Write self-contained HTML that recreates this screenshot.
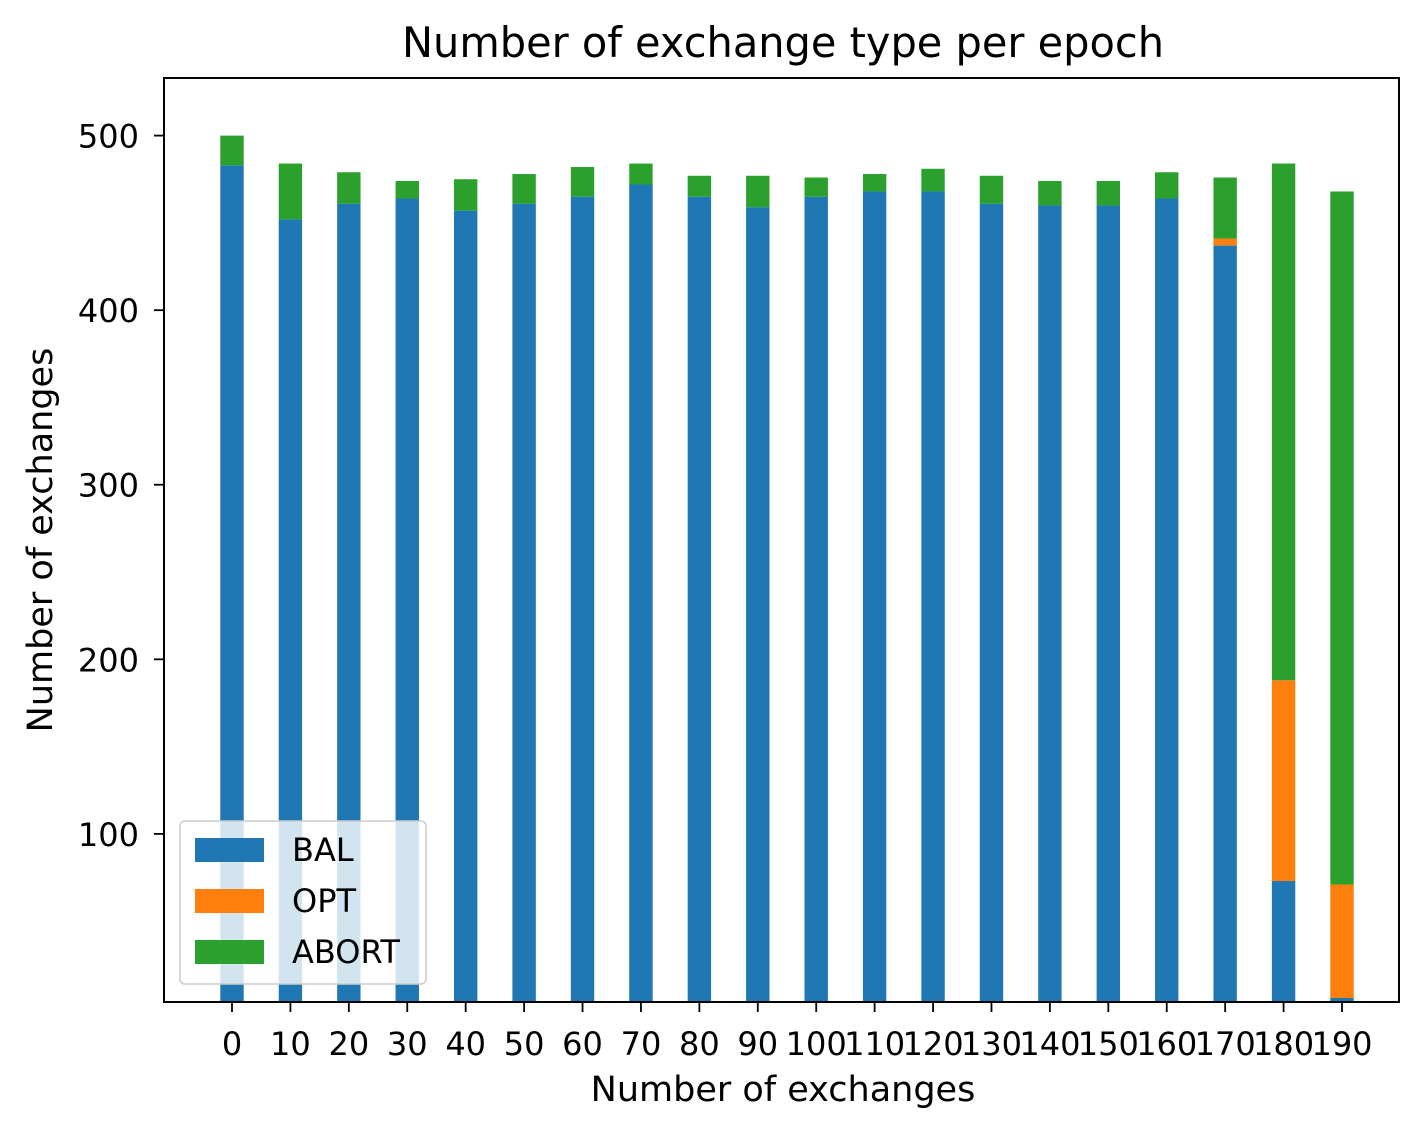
<!DOCTYPE html>
<html><head><meta charset="utf-8"><style>
body{margin:0;background:#fff;}
svg text{font-family:"DejaVu Sans","Liberation Sans",sans-serif;fill:#000;}
</style></head><body>
<svg id="chart" width="1428" height="1134" xmlns="http://www.w3.org/2000/svg">
<rect width="1428" height="1134" fill="#fff"/>
<text x="783" y="57" font-size="41.5" text-anchor="middle">Number of exchange type per epoch</text>
<g id="bars"></g>
<rect x="164" y="78" width="1235" height="924" fill="none" stroke="#000" stroke-width="2"/>
<g id="axes"></g>
<text x="783" y="1101" font-size="35" text-anchor="middle">Number of exchanges</text>
<text transform="translate(52,540) rotate(-90)" font-size="35" text-anchor="middle">Number of exchanges</text>
<g>
<rect x="180" y="821" width="246" height="163" rx="5" fill="#fff" fill-opacity="0.8" stroke="#ccc" stroke-width="1.5"/>
<rect x="195" y="838" width="69" height="24" fill="#1f77b4"/>
<text x="292" y="861" font-size="32">BAL</text>
<rect x="195" y="889" width="69" height="24" fill="#ff7f0e"/>
<text x="292" y="912" font-size="32">OPT</text>
<rect x="195" y="940" width="69" height="24" fill="#2ca02c"/>
<text x="292" y="963" font-size="32">ABORT</text>
</g>
</svg>
<script>
const categories=[0,10,20,30,40,50,60,70,80,90,100,110,120,130,140,150,160,170,180,190];
const balValues=[483,452,461,464,457,461,465,472,465,459,465,468,468,461,460,460,464,437,73,6];
const optValues=[0,0,0,0,0,0,0,0,0,0,0,0,0,0,0,0,0,4,115,65];
const abortValues=[17,32,18,10,18,17,17,12,12,18,11,10,13,16,14,14,15,35,296,397];
const yTicks=[100,200,300,400,500];
const NS="http://www.w3.org/2000/svg";
const yMin=3.7,yMax=533,plotTop=78,plotBottom=1002;
function ys(v){return plotBottom-(v-yMin)*(plotBottom-plotTop)/(yMax-yMin);}
function xs(c){return 232+(c-0)*(1342-232)/190;}
const bw=23.4;
const g=document.getElementById('bars');
const ax=document.getElementById('axes');
function rect(x,y0,y1,color,name){
  const r=document.createElementNS(NS,'rect');
  r.setAttribute('x',x-bw/2);r.setAttribute('width',bw);
  const a=Math.min(ys(y0),plotBottom),b=ys(y1);
  r.setAttribute('y',b);r.setAttribute('height',Math.max(0,a-b));
  r.setAttribute('fill',color);
  
  
  g.appendChild(r);
}
categories.forEach((c,i)=>{
  const x=xs(c);
  const b=balValues[i],o=optValues[i],a=abortValues[i];
  rect(x,0,b,'#1f77b4','bar-bal-'+c);
  if(o>0)rect(x,b,b+o,'#ff7f0e','bar-opt-'+c);
  rect(x,b+o,b+o+a,'#2ca02c','bar-abort-'+c);
  const t=document.createElementNS(NS,'line');
  t.setAttribute('x1',x);t.setAttribute('x2',x);t.setAttribute('y1',plotBottom);t.setAttribute('y2',plotBottom+10);
  t.setAttribute('stroke','#000');t.setAttribute('stroke-width','1.8');
  
  
  ax.appendChild(t);
  const l=document.createElementNS(NS,'text');
  l.setAttribute('x',x);l.setAttribute('y',1055);l.setAttribute('font-size','32');l.setAttribute('text-anchor','middle');
  l.textContent=c;
  
  
  ax.appendChild(l);
});
yTicks.forEach(v=>{
  const y=ys(v);
  const t=document.createElementNS(NS,'line');
  t.setAttribute('x1',154);t.setAttribute('x2',164);t.setAttribute('y1',y);t.setAttribute('y2',y);
  t.setAttribute('stroke','#000');t.setAttribute('stroke-width','1.8');
  
  
  ax.appendChild(t);
  const l=document.createElementNS(NS,'text');
  l.setAttribute('x',139);l.setAttribute('y',y+12);l.setAttribute('font-size','32');l.setAttribute('text-anchor','end');
  l.textContent=v;
  
  
  ax.appendChild(l);
});
</script>
</body></html>
